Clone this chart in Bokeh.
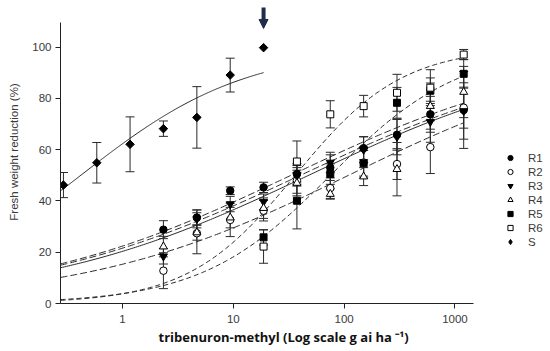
import numpy as np
from bokeh.plotting import figure
from bokeh.models import (Range1d, FixedTicker, Whisker, TeeHead, Legend, LegendItem,
                          ColumnDataSource, Arrow, NormalHead, Title)
from bokeh.embed import file_html
from bokeh.resources import INLINE

# ---------------- data ----------------
s_dose = [0.293, 0.586, 1.17, 2.34, 4.69, 9.375, 18.75]
s_resp = [46.2, 54.9, 62.1, 68.2, 72.6, 89.1, 99.8]
s_err = [4.9, 7.9, 10.7, 3.0, 12.0, 6.6, 0.0]

r_dose = [2.34, 4.69, 9.375, 18.75, 37.5, 75, 150, 300, 600, 1200]
r1_resp = [28.8, 33.5, 44.0, 45.3, 50.5, 53.0, 60.6, 65.8, 73.8, 75.5]
r1_err = [3.5, 3.0, 1.5, 2.0, 4.0, 5.0, 4.5, 6.0, 7.0, 15.0]
r2_resp = [12.8, 27.4, 32.6, 36.2, 48.0, 45.0, 55.0, 54.4, 61.0, 76.4]
r2_err = [7.0, 8.0, 6.5, 4.0, 5.0, 4.0, 6.0, 6.0, 10.3, 8.0]
r3_resp = [18.4, 33.0, 38.8, 39.7, 49.8, 55.0, 60.0, 65.0, 70.9, 75.1]
r3_err = [3.0, 3.5, 3.0, 3.0, 4.0, 4.0, 5.0, 7.0, 8.0, 11.0]
r4_resp = [22.2, 27.7, 33.5, 37.2, 47.0, 42.7, 49.5, 52.4, 77.0, 82.5]
r4_err = [4.0, 3.0, 4.0, 4.0, 5.0, 2.0, 3.5, 10.4, 9.0, 10.0]

r56_dose = [18.75, 37.5, 75, 150, 300, 600, 1200]
r5_resp = [25.8, 40.1, 50.5, 54.7, 78.3, 83.0, 89.6]
r5_err = [3.0, 11.0, 4.0, 5.0, 6.0, 5.0, 5.6]
r6_resp = [22.2, 55.4, 73.8, 77.0, 82.2, 84.2, 97.1]
r6_err = [6.5, 8.0, 5.3, 4.2, 7.2, 7.0, 2.0]

# log-logistic fit parameters (slope b, ED50 e, upper limit d)
fit_b = {"S": 0.58, "R1": 0.353, "R2": 0.364, "R3": 0.355, "R4": 0.349, "R5": 0.745, "R6": 0.90}
fit_e = {"S": 0.42, "R1": 47.8, "R2": 109.6, "R3": 33.1, "R4": 40.3, "R5": 75.3, "R6": 36.2}
fit_d = 100.0

x_ticks = [1, 10, 100, 1000]
y_ticks = [0, 20, 40, 60, 80, 100]
x_title = "tribenuron-methyl (Log scale g ai ha \u207b\u00b9)"
y_title = "Fresh weight reduction (%)"

# ---------------- figure ----------------
X0, X1 = 0.2757, 6990.0
p = figure(width=548, height=349, x_axis_type="log",
           x_range=Range1d(X0, X1), y_range=Range1d(0, 118.2),
           output_backend="svg", toolbar_location=None,
           min_border_left=60, min_border_right=0, min_border_top=0, min_border_bottom=46)
p.outline_line_color = None
p.xgrid.visible = False
p.ygrid.visible = False
p.background_fill_color = "white"

AX = "#222222"
TXT = "#3a3a3a"
for ax in (p.xaxis[0], p.yaxis[0]):
    ax.axis_line_color = AX
    ax.major_tick_line_color = AX
    ax.minor_tick_line_color = None
    ax.major_tick_in = 0
    ax.major_tick_out = 5
    ax.major_label_text_font = "Liberation Sans"
    ax.major_label_text_font_size = "11.5px"
    ax.major_label_text_color = TXT

p.xaxis.ticker = FixedTicker(ticks=x_ticks)
p.xaxis.major_label_overrides = {t: str(t) for t in x_ticks}
p.xaxis.bounds = (X0, 1475)
p.xaxis.major_label_standoff = 6

p.yaxis.ticker = FixedTicker(ticks=y_ticks)
p.yaxis.bounds = (0, 109.6)
p.yaxis.major_label_standoff = 4
p.yaxis.axis_label = y_title
p.yaxis.axis_label_text_font = "Liberation Sans"
p.yaxis.axis_label_text_font_style = "normal"
p.yaxis.axis_label_text_font_size = "11.5px"
p.yaxis.axis_label_text_color = TXT
p.yaxis.axis_label_standoff = 9

# x-axis title, under the axis, starting where the original's does
p.add_layout(Title(text=x_title, align="left", offset=98, standoff=0,
                   text_font="Open Sans", text_font_style="bold", text_font_size="13px",
                   text_color="#111111"), "below")


def curve(name, x_lo, x_hi):
    xs = np.logspace(np.log10(x_lo), np.log10(x_hi), 200)
    ys = fit_d / (1.0 + 10 ** (fit_b[name] * (np.log10(fit_e[name]) - np.log10(xs))))
    return xs, ys

LINE = "#2a2a2a"
for name, dash in [("R2", "7 3"), ("R3", "7 3"), ("R4", "7 3"), ("R5", "5 3"), ("R6", "5 3")]:
    xs, ys = curve(name, X0, 1200)
    p.line(xs, ys, line_color=LINE, line_width=1, line_dash=dash)
xs, ys = curve("R1", X0, 1200)
p.line(xs, ys, line_color=LINE, line_width=1)
xs, ys = curve("S", X0, 18.75)
p.line(xs, ys, line_color=LINE, line_width=1)

series = [
    ("R1", r_dose, r1_resp, r1_err, dict(marker="circle", size=7.5, fill_color="black", line_color="black")),
    ("R2", r_dose, r2_resp, r2_err, dict(marker="circle", size=7.5, fill_color="white", line_color="black")),
    ("R3", r_dose, r3_resp, r3_err, dict(marker="inverted_triangle", size=8, fill_color="black", line_color="black")),
    ("R4", r_dose, r4_resp, r4_err, dict(marker="triangle", size=8, fill_color="white", line_color="black")),
    ("R5", r56_dose, r5_resp, r5_err, dict(marker="square", size=7, fill_color="black", line_color="black")),
    ("R6", r56_dose, r6_resp, r6_err, dict(marker="square", size=7, fill_color="white", line_color="black")),
    ("S", s_dose, s_resp, s_err, dict(marker="square", size=6, angle=np.pi / 4, fill_color="black", line_color="black")),
]

for name, dose, resp, err, style in series:
    d = [x for x, e in zip(dose, err) if e > 0]
    up = [r + e for r, e in zip(resp, err) if e > 0]
    lo = [r - e for r, e in zip(resp, err) if e > 0]
    src = ColumnDataSource(dict(x=d, upper=up, lower=lo))
    w = Whisker(source=src, base="x", upper="upper", lower="lower", dimension="height",
                line_color=LINE, line_width=1,
                upper_head=TeeHead(size=9, line_color=LINE, line_width=1),
                lower_head=TeeHead(size=9, line_color=LINE, line_width=1))
    w.level = "underlay"
    p.add_layout(w)

items = []
for name, dose, resp, err, style in series:
    r = p.scatter(dose, resp, line_width=1, **style)
    if name == "S":
        # legend swatch only: an upright diamond (renderer itself hidden)
        r = p.scatter(dose, resp, marker="diamond", size=10, fill_color="black",
                      line_color="black", visible=False)
    items.append(LegendItem(label=name, renderers=[r]))

legend = Legend(items=items, location=(443, 55))
legend.border_line_alpha = 0
legend.background_fill_alpha = 0
legend.inactive_fill_alpha = 0
legend.padding = 0
legend.margin = 0
legend.spacing = 1
legend.glyph_width = 14
legend.glyph_height = 13
legend.label_height = 13
legend.label_standoff = 11
legend.label_text_font = "Liberation Sans"
legend.label_text_font_size = "11.5px"
legend.label_text_color = TXT
p.add_layout(legend)

# arrow marking the highest S dose
p.add_layout(Arrow(x_start=18.75, y_start=115.5, x_end=18.75, y_end=107.3,
                   line_color="#1f2d4d", line_width=4,
                   end=NormalHead(size=9, fill_color="#1f2d4d", line_color="#1f2d4d")))

open("out.html", "w").write(file_html(p, INLINE))
